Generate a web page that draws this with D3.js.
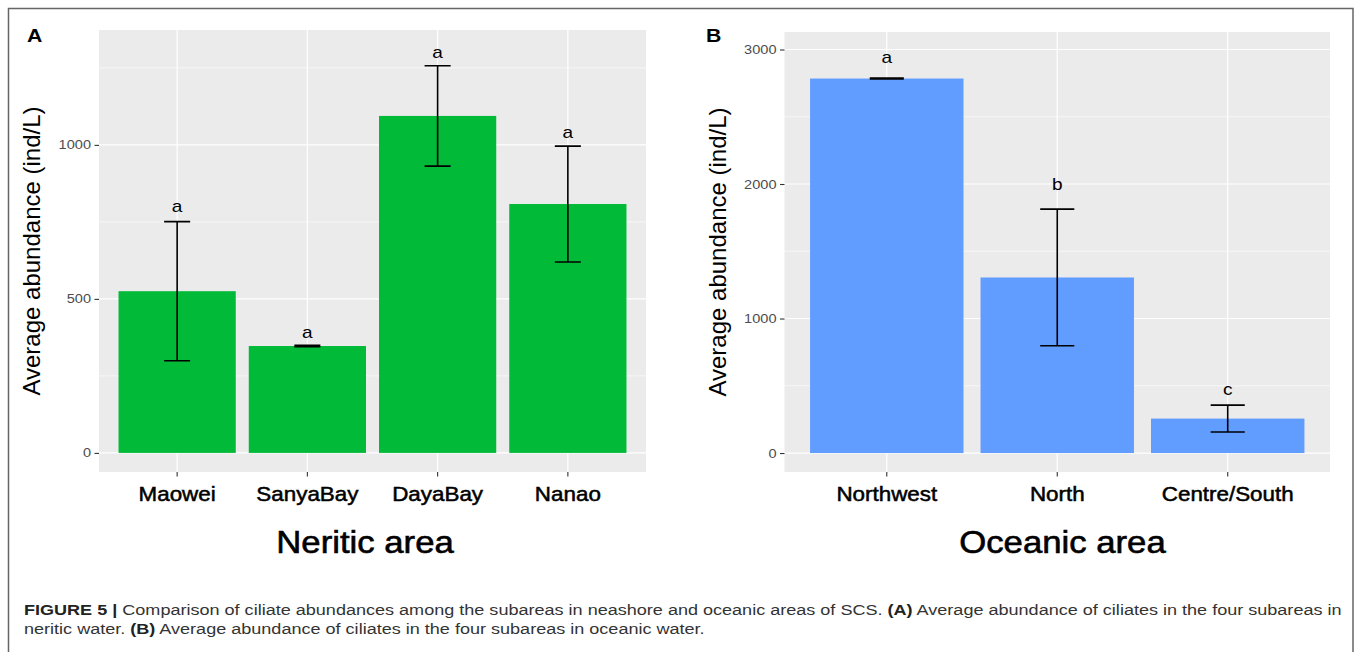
<!DOCTYPE html>
<html>
<head>
<meta charset="utf-8">
<script src="https://cdn.jsdelivr.net/npm/d3@7"></script>
<style>
  body { margin: 0; background: #fff; }
  text { font-family: "Liberation Sans", Arial, sans-serif; }
</style>
</head>
<body>
<svg width="1357" height="652"></svg>
<script>
// panel A - neritic
const neriticSites = ['Maowei', 'SanyaBay', 'DayaBay', 'Nanao'];
const neriticMean = [525, 347, 1094, 808];
const neriticSd = [226, 2, 163, 188];
const neriticLetters = ['a', 'a', 'a', 'a'];
const neriticLetterY = [800, 393, 1302, 1042];
const neriticTicks = [0, 500, 1000];

// panel B - oceanic
const oceanicSites = ['Northwest', 'North', 'Centre/South'];
const oceanicMean = [2784, 1305, 256];
const oceanicSd = [3, 508, 100];
const oceanicLetters = ['a', 'b', 'c'];
const oceanicLetterY = [2944, 2000, 475];
const oceanicTicks = [0, 1000, 2000, 3000];

const SX = 1.12; // the figure is slightly stretched horizontally

const svg = d3.select('svg');
svg.append('rect').attr('width', 1357).attr('height', 652).attr('fill', '#fff');

// frame around figure
svg.append('path')
  .attr('d', 'M8.5,652 V8.5 H1353 V652')
  .attr('fill', 'none')
  .attr('stroke', '#666')
  .attr('stroke-width', 1.5);

const label = (g, x, y, str, size, opts = {}) => g.append('text')
  .attr('transform', `translate(${x},${y}) scale(${SX},1)`)
  .attr('text-anchor', opts.anchor || 'middle')
  .attr('font-size', size)
  .attr('font-weight', opts.weight || 'normal')
  .attr('fill', opts.fill || '#000')
  .attr('stroke', opts.heavy ? (opts.fill || '#000') : null)
  .attr('stroke-width', opts.heavy || null)
  .text(str);

function panel(p) {
  const g = svg.append('g');

  const x = d3.scaleBand()
    .domain(p.sites)
    .range([p.left, p.right])
    .paddingInner(0.1)
    .paddingOuter(0.15);

  const y = d3.scaleLinear()
    .domain(p.domain)
    .range([472, p.top]);

  g.append('rect')
    .attr('x', p.left).attr('y', p.top)
    .attr('width', p.right - p.left).attr('height', 472 - p.top)
    .attr('fill', '#ebebeb');

  // minor grid
  g.selectAll('.minor')
    .data(p.ticks.map(t => t + p.ticks[1] / 2).filter(t => y(t) > p.top))
    .enter().append('line')
    .attr('x1', p.left).attr('x2', p.right)
    .attr('y1', d => y(d)).attr('y2', d => y(d))
    .attr('stroke', '#fff').attr('stroke-width', 0.6);

  // major grid
  g.selectAll('.major')
    .data(p.ticks)
    .enter().append('line')
    .attr('x1', p.left).attr('x2', p.right)
    .attr('y1', d => y(d)).attr('y2', d => y(d))
    .attr('stroke', '#fff').attr('stroke-width', 1.2);

  g.selectAll('.vgrid')
    .data(p.sites)
    .enter().append('line')
    .attr('x1', d => x(d) + x.bandwidth() / 2).attr('x2', d => x(d) + x.bandwidth() / 2)
    .attr('y1', p.top).attr('y2', 472)
    .attr('stroke', '#fff').attr('stroke-width', 1.2);

  // bars
  g.selectAll('.bar')
    .data(p.sites)
    .enter().append('rect')
    .attr('x', d => x(d))
    .attr('width', x.bandwidth())
    .attr('y', (d, i) => y(p.mean[i]))
    .attr('height', (d, i) => y(0) - y(p.mean[i]))
    .attr('fill', p.color);

  // error bars
  const cap = x.step() * 0.1;
  p.sites.forEach((s, i) => {
    const cx = x(s) + x.bandwidth() / 2;
    const hi = y(p.mean[i] + p.sd[i]);
    const lo = y(p.mean[i] - p.sd[i]);
    g.append('path')
      .attr('d', `M${cx - cap},${hi} H${cx + cap} M${cx},${hi} V${lo} M${cx - cap},${lo} H${cx + cap}`)
      .attr('fill', 'none')
      .attr('stroke', '#000')
      .attr('stroke-width', 1.6);
    label(g, cx, y(p.letterY[i]) + 6, p.letters[i], 17);
  });

  // y axis
  const yAxis = g.append('g')
    .attr('transform', `translate(${p.left},0)`)
    .call(d3.axisLeft(y).tickValues(p.ticks).tickSize(4.5).tickPadding(3).tickFormat(d3.format('d')));
  yAxis.select('.domain').remove();
  yAxis.selectAll('line').attr('stroke', '#333').attr('stroke-width', 1.1);
  yAxis.selectAll('text').remove();
  p.ticks.forEach(t => label(g, p.left - 8, y(t) + 4.5, t, 13, { anchor: 'end', fill: '#4d4d4d' }));

  // x axis
  const xAxis = g.append('g')
    .attr('transform', 'translate(0,472)')
    .call(d3.axisBottom(x).tickSize(4.5));
  xAxis.select('.domain').remove();
  xAxis.selectAll('line').attr('stroke', '#333').attr('stroke-width', 1.1);
  xAxis.selectAll('text').remove();
  p.sites.forEach(s => label(g, x(s) + x.bandwidth() / 2, 501, s, 20, { heavy: 0.5 }));

  // titles
  label(g, p.titleX, 553, p.title, 31, { heavy: 0.6 });
  g.append('text')
    .attr('transform', `translate(${p.left - 59},${(p.top + 472) / 2}) rotate(-90)`)
    .attr('text-anchor', 'middle')
    .attr('font-size', 24)
    .text('Average abundance (ind/L)');
  label(g, p.tagX, 42, p.tag, 19, { weight: 'bold', anchor: 'start' });
}

panel({
  sites: neriticSites, mean: neriticMean, sd: neriticSd,
  letters: neriticLetters, letterY: neriticLetterY, ticks: neriticTicks,
  domain: [-62, 1373], left: 99, right: 646, top: 30,
  color: '#00ba38', title: 'Neritic area', titleX: 365, tag: 'A', tagX: 27
});

panel({
  sites: oceanicSites, mean: oceanicMean, sd: oceanicSd,
  letters: oceanicLetters, letterY: oceanicLetterY, ticks: oceanicTicks,
  domain: [-141, 3130], left: 784.5, right: 1330, top: 32,
  color: '#619cff', title: 'Oceanic area', titleX: 1062.5, tag: 'B', tagX: 706
});

// caption
const CX = 1.165;
const cap1 = svg.append('text')
  .attr('transform', `translate(24,615) scale(${CX},1)`)
  .attr('font-size', 15.5).attr('fill', '#333');
cap1.append('tspan').attr('font-weight', 'bold').attr('fill', '#222').text('FIGURE 5 | ');
cap1.append('tspan').text('Comparison of ciliate abundances among the subareas in neashore and oceanic areas of SCS. ');
cap1.append('tspan').attr('font-weight', 'bold').attr('fill', '#222').text('(A)');
cap1.append('tspan').text(' Average abundance of ciliates in the four subareas in');

const cap2 = svg.append('text')
  .attr('transform', `translate(24,634) scale(${CX},1)`)
  .attr('font-size', 15.5).attr('fill', '#333');
cap2.append('tspan').text('neritic water. ');
cap2.append('tspan').attr('font-weight', 'bold').attr('fill', '#222').text('(B)');
cap2.append('tspan').text(' Average abundance of ciliates in the four subareas in oceanic water.');
</script>
</body>
</html>
